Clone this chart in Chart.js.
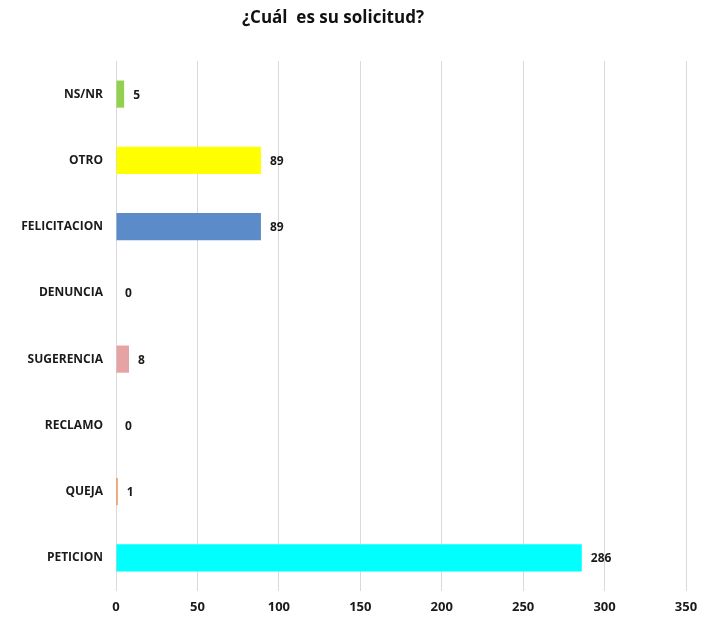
<!DOCTYPE html>
<html>
<head>
<meta charset="utf-8">
<title>¿Cuál es su solicitud?</title>
<script src="https://cdn.jsdelivr.net/npm/chart.js@4/dist/chart.umd.min.js"></script>
<style>
  html, body { margin: 0; padding: 0; background: #fff; }
  #wrap { width: 710px; height: 618px; }
</style>
</head>
<body>
<div id="wrap"><canvas id="solicitudChart" width="710" height="618"></canvas></div>
<script>
// ---- data ----
const categories = ['NS/NR', 'OTRO', 'FELICITACION', 'DENUNCIA', 'SUGERENCIA', 'RECLAMO', 'QUEJA', 'PETICION'];
const counts = [5, 89, 89, 0, 8, 0, 1, 286];
const barColors = ['#92d050', '#ffff00', '#5b8bc9', '#a5a5a5', '#e6a3a3', '#4472c4', '#ed7d31', '#00ffff'];
const xTicks = [0, 50, 100, 150, 200, 250, 300, 350];

const FONT = "'Open Sans', 'DejaVu Sans', sans-serif";
const TITLE = '¿Cuál  es su solicitud?';

// value labels at the end of every bar
const valueLabels = {
  id: 'valueLabels',
  afterDatasetsDraw(chart) {
    const ctx = chart.ctx;
    const meta = chart.getDatasetMeta(0);
    ctx.save();
    ctx.font = 'bold 12px ' + FONT;
    ctx.fillStyle = '#1a1a1a';
    ctx.textAlign = 'left';
    ctx.textBaseline = 'middle';
    meta.data.forEach((bar, i) => {
      ctx.fillText(String(counts[i]), bar.x + 9, bar.y + 1);
    });
    ctx.restore();
  }
};

// chart title, sits a bit left of centre
const chartTitle = {
  id: 'chartTitle',
  afterDraw(chart) {
    const ctx = chart.ctx;
    ctx.save();
    ctx.font = 'bold 17px ' + FONT;
    ctx.fillStyle = '#111';
    ctx.textAlign = 'center';
    ctx.textBaseline = 'middle';
    ctx.fillText(TITLE, chart.width * 0.469, 18);
    ctx.restore();
  }
};

new Chart(document.getElementById('solicitudChart'), {
  type: 'bar',
  data: {
    labels: categories,
    datasets: [{
      data: counts,
      backgroundColor: barColors,
      borderWidth: 0,
      categoryPercentage: 1,
      barPercentage: 0.41
    }]
  },
  options: {
    indexAxis: 'y',
    responsive: false,
    animation: false,
    layout: { padding: { top: 61, right: 24, left: 0, bottom: 0 } },
    plugins: {
      legend: { display: false },
      tooltip: { enabled: false },
      title: { display: false }
    },
    scales: {
      x: {
        min: 0,
        max: 350,
        afterBuildTicks(axis) { axis.ticks = xTicks.map(v => ({ value: v })); },
        grid: { color: '#d9d9d9', lineWidth: 1, drawTicks: false },
        border: { display: false },
        ticks: {
          padding: 8,
          color: '#1a1a1a',
          font: { family: FONT, size: 13, weight: 'bold' }
        },
        afterFit(axis) { axis.height = 27; }
      },
      y: {
        grid: { display: false, drawTicks: false },
        border: { display: false },
        ticks: {
          padding: 13,
          color: '#1a1a1a',
          font: { family: FONT, size: 12, weight: 'bold' }
        },
        afterFit(axis) { axis.width = 116; }
      }
    }
  },
  plugins: [valueLabels, chartTitle]
});
</script>
</body>
</html>
